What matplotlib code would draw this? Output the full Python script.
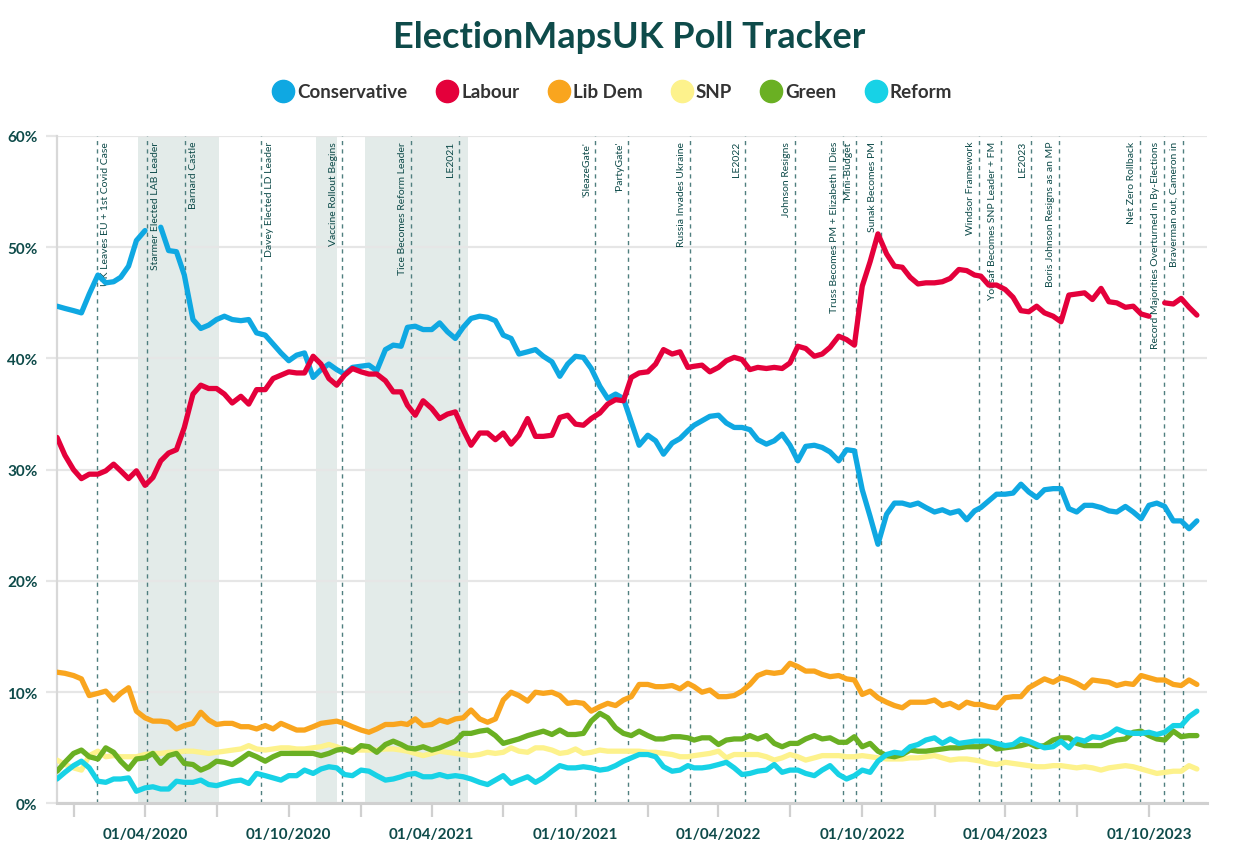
import matplotlib
matplotlib.use("Agg")
import matplotlib.pyplot as plt
import matplotlib.dates as mdates
from matplotlib.lines import Line2D
import numpy as np
import pandas as pd

plt.rcParams["font.family"] = ["Lato", "DejaVu Sans"]

# poll average sampled on the 1st, 11th and 21st of each month
dates = ["2019-12-11", "2019-12-21"]
for yr in range(2020, 2024):
    for mo in range(1, 13):
        if (yr, mo) == (2023, 12):
            break
        dates += [f"{yr}-{mo:02d}-{d:02d}" for d in (1, 11, 21)]
dates.append("2023-12-01")
dates = pd.to_datetime(dates)

nan = np.nan
conservative = [44.7, 44.5,
    44.3, 44.1, 45.8, 47.5, 46.8, 46.9, 47.3, 48.3, 50.6, 51.5, nan, 51.8,
    49.7, 49.6, 47.5, 43.5, 42.7, 43.0, 43.5, 43.8, 43.5, 43.4, 43.5, 42.3,
    42.1, 41.3, 40.5, 39.8, 40.3, 40.5, 38.3, 39.0, 39.5, 39.0, 38.6, 39.2,
    39.3, 39.4, 38.9, 40.8, 41.2, 41.1, 42.8, 42.9, 42.6, 42.6, 43.2, 42.4,
    41.8, 42.8, 43.6, 43.8, 43.7, 43.4, 42.1, 41.8, 40.4, 40.6, 40.8, 40.2,
    39.7, 38.4, 39.5, 40.2, 40.1, 39.1, 37.5, 36.4, 36.8, 36.4, 34.3, 32.2,
    33.1, 32.6, 31.4, 32.4, 32.8, 33.5, 34.0, 34.4, 34.8, 34.9, 34.2, 33.8,
    33.8, 33.6, 32.7, 32.3, 32.6, 33.2, 32.2, 30.8, 32.1, 32.2, 32.0, 31.6,
    30.8, 31.8, 31.7, 28.2, 25.8, 23.3, 26.0, 27.0, 27.0, 26.8, 27.0, 26.6,
    26.2, 26.4, 26.1, 26.3, 25.5, 26.3, 26.6, 27.2, 27.8, 27.8, 27.9, 28.7,
    28.0, 27.5, 28.2, 28.3, 28.3, 26.5, 26.2, 26.8, 26.8, 26.6, 26.3, 26.2,
    26.7, 26.2, 25.6, 26.8, 27.0, 26.7, 25.4, 25.4, 24.7, 25.4]
labour = [32.9, 31.3,
    30.0, 29.2, 29.6, 29.6, 29.9, 30.5, 29.9, 29.2, 29.9, 28.6, 29.3, 30.8,
    31.5, 31.8, 33.8, 36.8, 37.6, 37.3, 37.3, 36.8, 36.0, 36.6, 35.9, 37.2,
    37.2, 38.2, 38.5, 38.8, 38.7, 38.7, 40.2, 39.5, 38.2, 37.6, 38.5, 39.1,
    38.8, 38.6, 38.6, 38.0, 37.0, 37.0, 35.8, 34.9, 36.2, 35.5, 34.6, 35.0,
    35.2, 33.6, 32.2, 33.3, 33.3, 32.7, 33.3, 32.3, 33.1, 34.6, 33.0, 33.0,
    33.1, 34.7, 34.9, 34.1, 34.0, 34.6, 35.1, 35.9, 36.3, 36.2, 38.3, 38.7,
    38.8, 39.5, 40.8, 40.4, 40.6, 39.2, 39.3, 39.4, 38.8, 39.2, 39.8, 40.1,
    39.9, 39.0, 39.2, 39.1, 39.2, 39.1, 39.6, 41.1, 40.9, 40.2, 40.4, 41.0,
    42.0, 41.7, 41.2, 46.5, 48.7, 51.2, 49.4, 48.3, 48.2, 47.3, 46.7, 46.8,
    46.8, 46.9, 47.2, 48.0, 47.9, 47.5, 47.4, 46.6, 46.6, 46.2, 45.5, 44.3,
    44.2, 44.7, 44.1, 43.8, 43.3, 45.7, 45.8, 45.9, 45.3, 46.3, 45.1, 45.0,
    44.6, 44.7, 44.0, 43.8, nan, 45.0, 44.9, 45.4, 44.6, 43.9]
lib_dem = [11.8, 11.7,
    11.5, 11.2, 9.7, 9.9, 10.1, 9.3, 9.9, 10.4, 8.3, 7.7, 7.4, 7.4,
    7.3, 6.7, 7.0, 7.2, 8.2, 7.5, 7.1, 7.2, 7.2, 6.9, 6.9, 6.7,
    7.0, 6.7, 7.2, 6.9, 6.6, 6.6, 6.9, 7.2, 7.3, 7.4, 7.2, 6.9,
    6.6, 6.4, 6.7, 7.1, 7.1, 7.2, 7.1, 7.6, 7.0, 7.1, 7.5, 7.3,
    7.6, 7.7, 8.4, 7.6, 7.3, 7.6, 9.3, 10.0, 9.7, 9.2, 10.0, 9.9,
    10.0, 9.7, 9.0, 9.1, 9.0, 8.3, 8.7, 9.0, 8.8, 9.3, 9.6, 10.7,
    10.7, 10.5, 10.5, 10.6, 10.3, 10.8, 10.5, 10.0, 10.2, 9.6, 9.6, 9.7,
    10.1, 10.7, 11.5, 11.8, 11.7, 11.8, 12.6, 12.3, 11.9, 11.9, 11.6, 11.4,
    11.5, 11.2, 11.1, 9.8, 10.1, 9.5, 9.1, 8.8, 8.6, 9.1, 9.1, 9.1,
    9.3, 8.8, 9.0, 8.6, 9.1, 8.9, 8.9, 8.7, 8.6, 9.5, 9.6, 9.6,
    10.4, 10.8, 11.2, 10.9, 11.3, 11.1, 10.8, 10.4, 11.1, 11.0, 10.9, 10.6,
    10.8, 10.7, 11.5, 11.3, 11.1, 11.1, 10.7, 10.6, 11.1, 10.7]
snp = [3.9, 3.5,
    3.2, 3.0, 4.3, 4.7, 4.2, 4.3, 4.2, 4.2, 4.2, 4.4, 4.5, 4.5,
    4.6, 4.6, 4.7, 4.7, 4.6, 4.5, 4.6, 4.7, 4.8, 4.9, 5.2, 4.9,
    4.8, 4.9, 5.0, 5.0, 4.9, 4.9, 5.0, 5.1, 5.3, 5.1, 4.8, 4.8,
    4.8, 4.8, 4.8, 4.9, 4.9, 4.8, 4.7, 4.5, 4.3, 4.5, 4.7, 4.6,
    4.5, 4.4, 4.3, 4.4, 4.6, 4.5, 4.6, 5.0, 4.7, 4.6, 5.0, 5.0,
    4.8, 4.5, 4.6, 4.9, 4.5, 4.6, 4.8, 4.7, 4.7, 4.7, 4.7, 4.7,
    4.6, 4.6, 4.5, 4.4, 4.2, 4.2, 4.3, 4.4, 4.5, 4.7, 4.1, 4.4,
    4.4, 4.4, 4.4, 4.2, 3.9, 4.1, 4.4, 4.2, 3.9, 4.1, 4.3, 4.3,
    4.3, 4.2, 4.2, 4.3, 4.2, 4.1, 4.0, 4.0, 4.0, 4.1, 4.1, 4.2,
    4.3, 4.1, 3.9, 4.0, 4.0, 3.9, 3.8, 3.6, 3.5, 3.7, 3.6, 3.5,
    3.4, 3.3, 3.3, 3.4, 3.4, 3.3, 3.2, 3.3, 3.2, 3.0, 3.2, 3.3,
    3.4, 3.3, 3.1, 2.9, 2.7, 2.8, 2.9, 2.9, 3.4, 3.1]
green = [2.9, 3.7,
    4.5, 4.8, 4.2, 4.0, 5.0, 4.6, 3.8, 3.1, 4.0, 4.1, 4.5, 3.6,
    4.3, 4.5, 3.6, 3.5, 3.0, 3.3, 3.8, 3.7, 3.5, 4.0, 4.5, 4.2,
    3.8, 4.2, 4.5, 4.5, 4.5, 4.5, 4.5, 4.3, 4.5, 4.8, 4.9, 4.6,
    5.2, 5.1, 4.6, 5.3, 5.6, 5.3, 5.0, 4.9, 5.1, 4.8, 5.0, 5.3,
    5.6, 6.3, 6.3, 6.5, 6.6, 6.1, 5.4, 5.6, 5.8, 6.1, 6.3, 6.5,
    6.2, 6.6, 6.2, 6.2, 6.3, 7.4, 8.1, 7.7, 6.8, 6.3, 6.1, 6.5,
    6.1, 5.8, 5.8, 6.0, 6.0, 5.9, 5.7, 5.9, 5.9, 5.3, 5.7, 5.8,
    5.8, 6.1, 5.8, 6.1, 5.4, 5.1, 5.4, 5.4, 5.8, 6.1, 5.8, 5.9,
    5.5, 5.5, 6.0, 5.1, 5.4, 4.7, 4.3, 4.2, 4.4, 4.8, 4.7, 4.7,
    4.8, 4.9, 5.0, 5.0, 5.1, 5.1, 5.1, 5.5, 4.9, 5.0, 5.1, 5.2,
    5.4, 5.1, 5.2, 5.7, 5.9, 5.9, 5.4, 5.2, 5.2, 5.2, 5.5, 5.7,
    5.8, 6.4, 6.5, 6.1, 5.8, 5.7, 6.5, 6.0, 6.1, 6.1]
reform = [2.2, 2.8,
    3.4, 3.8, 3.2, 2.0, 1.9, 2.2, 2.2, 2.3, 1.1, 1.4, 1.5, 1.3,
    1.3, 2.0, 1.9, 1.9, 2.1, 1.7, 1.6, 1.8, 2.0, 2.1, 1.8, 2.7,
    2.5, 2.3, 2.1, 2.5, 2.5, 3.0, 2.7, 3.1, 3.3, 3.2, 2.6, 2.5,
    3.0, 2.9, 2.5, 2.1, 2.2, 2.4, 2.6, 2.7, 2.4, 2.4, 2.6, 2.4,
    2.5, 2.4, 2.2, 1.9, 1.7, 2.1, 2.5, 1.8, 2.1, 2.4, 1.9, 2.3,
    2.9, 3.4, 3.2, 3.2, 3.3, 3.2, 3.0, 3.1, 3.4, 3.8, 4.1, 4.4,
    4.4, 4.2, 3.3, 2.9, 3.0, 3.4, 3.2, 3.2, 3.3, 3.5, 3.7, 3.2,
    2.6, 2.7, 2.9, 3.0, 3.5, 2.8, 3.0, 3.0, 2.7, 2.5, 3.0, 3.4,
    2.6, 2.2, 2.5, 3.0, 2.8, 3.8, 4.4, 4.6, 4.5, 5.1, 5.3, 5.7,
    5.9, 5.4, 5.8, 5.4, 5.5, 5.6, 5.6, 5.6, 5.4, 5.2, 5.3, 5.8,
    5.6, 5.3, 5.0, 5.1, 5.6, 5.0, 5.8, 5.6, 6.0, 5.9, 6.2, 6.7,
    6.4, 6.3, 6.3, 6.4, 6.2, 6.4, 7.0, 7.0, 7.8, 8.3]

parties = ["Conservative", "Labour", "Lib Dem", "SNP", "Green", "Reform"]
series = [conservative, labour, lib_dem, snp, green, reform]
colors = ["#0fa8e2", "#e4003b", "#f9a51e", "#fdf28c", "#6ab023", "#17d2e6"]

event_dates = ["2020-01-31", "2020-04-04", "2020-05-22", "2020-08-27", "2020-12-08",
               "2021-03-06", "2021-05-06", "2021-10-26", "2021-12-07", "2022-02-24",
               "2022-05-05", "2022-07-07", "2022-09-06", "2022-09-23", "2022-10-25",
               "2023-02-27", "2023-03-27", "2023-05-04", "2023-06-09", "2023-09-20",
               "2023-10-20", "2023-11-13"]
event_labels = ["UK Leaves EU + 1st Covid Case", "Starmer Elected LAB Leader",
                "Barnard Castle", "Davey Elected LD Leader", "Vaccine Rollout Begins",
                "Tice Becomes Reform Leader", "LE2021", "'SleazeGate'", "'PartyGate'",
                "Russia Invades Ukraine", "LE2022", "Johnson Resigns",
                "Truss Becomes PM + Elizabeth II Dies", "Mini-Budget", "Sunak Becomes PM",
                "Windsor Framework", "Yousaf Becomes SNP Leader + FM", "LE2023",
                "Boris Johnson Resigns as an MP", "Net Zero Rollback",
                "Record Majorities Overturned in By-Elections", "Braverman out, Cameron in"]

lockdown_start = ["2020-03-23", "2020-11-05", "2021-01-06"]
lockdown_end = ["2020-07-04", "2020-12-02", "2021-05-17"]

TEAL = "#0e4b4a"
fig = plt.figure(figsize=(12.54, 8.53), dpi=100)
ax = fig.add_axes([0.0455, 0.0569, 0.9171, 0.7825])

for s, e in zip(lockdown_start, lockdown_end):
    ax.axvspan(pd.Timestamp(s), pd.Timestamp(e), color="#e3ebe9", lw=0, zorder=0)

ax.set_axisbelow(True)
ax.yaxis.grid(True, color="#e6e6e6", lw=1.6)

for i, (d, lab) in enumerate(zip(event_dates, event_labels)):
    d = pd.Timestamp(d)
    ax.axvline(d, color="#4f7f7f", lw=1.0, ls=(0, (3, 3)), zorder=1)
    right = i < 4  # early labels sit right of their line
    ax.annotate(lab, (d, 1.0), xycoords=("data", "axes fraction"),
                xytext=(4 if right else -4, -5), textcoords="offset pixels",
                rotation=90, ha="left" if right else "right", va="top",
                fontsize=7.5, color=TEAL)

for vals, c in zip(series, colors):
    ax.plot(dates, vals, color=c, lw=3.8, solid_joinstyle="round",
            solid_capstyle="round", zorder=3)

ax.set_ylim(0, 60)
ax.set_xlim(pd.Timestamp("2019-12-11"), pd.Timestamp("2023-12-14"))
ax.set_yticks(range(0, 61, 10))
ax.set_yticklabels([f"{v}%" for v in range(0, 61, 10)])
ax.tick_params(axis="y", length=8, width=1.6, color="#e6e6e6", pad=6,
               labelsize=11, labelcolor=TEAL)
for t in ax.get_yticklabels():
    t.set_fontweight("bold")

ax.xaxis.set_major_locator(mdates.MonthLocator(bymonth=[1, 4, 7, 10]))
ax.xaxis.set_major_formatter(plt.FuncFormatter(
    lambda v, p: mdates.num2date(v).strftime("%d/%m/%Y")
    if mdates.num2date(v).month in (4, 10) else ""))
ax.tick_params(axis="x", length=10, width=1.6, color="#d0d0d0", pad=7,
               labelsize=11, labelcolor=TEAL)
for t in ax.get_xticklabels():
    t.set_fontweight("bold")

for sp in ("top", "right"):
    ax.spines[sp].set_visible(False)
ax.spines["left"].set_color("#d8d8d8")
ax.spines["left"].set_linewidth(1.6)
ax.spines["bottom"].set_color("#d0d0d0")
ax.spines["bottom"].set_linewidth(2.2)

fig.text(0.5015, 1 - 37 / 853, "ElectionMapsUK Poll Tracker", ha="center", va="center",
         fontsize=26, fontweight="bold", color=TEAL)
handles = [Line2D([], [], marker="o", ls="none", ms=16, mfc=c, mec=c) for c in colors]
fig.legend(handles, parties, loc="center", bbox_to_anchor=(0.489, 1 - 93 / 853), ncol=6,
           frameon=False, handletextpad=0.25, columnspacing=1.6, handlelength=1.0,
           prop={"weight": "bold", "size": 13.5}, labelcolor="#333333")

fig.savefig("out.png", dpi=100)
